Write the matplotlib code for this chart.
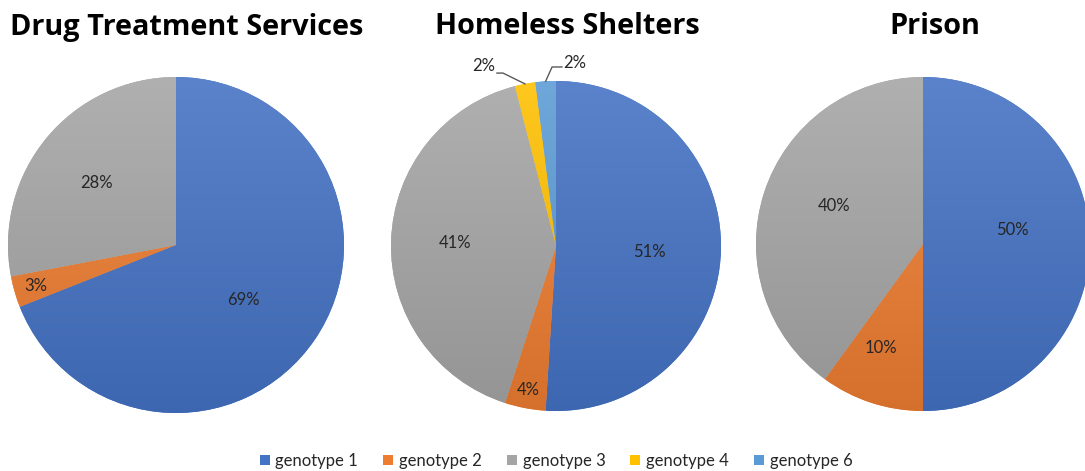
import numpy as np
import matplotlib
matplotlib.use("Agg")
import matplotlib.pyplot as plt
from matplotlib.colors import to_rgb
from matplotlib.patches import Patch

# ---- data ----
titles = ["Drug Treatment Services", "Homeless Shelters", "Prison"]
genotypes = ["genotype 1", "genotype 2", "genotype 3", "genotype 4", "genotype 6"]
drug_values = [69, 3, 28, 0, 0]
homeless_values = [51, 4, 41, 2, 2]
prison_values = [50, 10, 40, 0, 0]
all_values = [drug_values, homeless_values, prison_values]

# ---- style ----
colors = ["#4472C4", "#ED7D31", "#A5A5A5", "#FFC000", "#5B9BD5"]
W, H = 1085, 471
centers = [(176, 245, 168), (556, 246, 165), (923, 244, 167)]
title_x = [187, 567, 935]
label_r = [[0.52, 0.87, 0.60, None, None],
           [0.57, 0.89, 0.61, None, None],
           [0.54, 0.67, 0.58, None, None]]
label_da = [[-5, 0, 2, 0, 0],
            [-2, 0, 0, 0, 0],
            [9, -4, -5, 0, 0]]
label_font = "Lato"
text_color = "#262626"

fig = plt.figure(figsize=(W / 100, H / 100), dpi=100)


def shade(c, f):
    c = np.array(to_rgb(c))
    if f > 0:
        return c + (1 - c) * f
    return c * (1 + f)


for i, (vals, (cx, cy, r)) in enumerate(zip(all_values, centers)):
    ax = fig.add_axes([(cx - r) / W, (H - cy - r) / H, 2 * r / W, 2 * r / H])
    ax.set_xlim(-1, 1)
    ax.set_ylim(-1, 1)
    ax.set_aspect("equal")
    ax.axis("off")
    idx = [k for k, v in enumerate(vals) if v > 0]
    v = [vals[k] for k in idx]
    wedges, _ = ax.pie(v, colors=[colors[k] for k in idx], startangle=90,
                       counterclock=False, radius=1.0, center=(0, 0),
                       wedgeprops=dict(linewidth=0))
    for w, k in zip(wedges, idx):
        top = shade(colors[k], 0.12)
        bot = shade(colors[k], -0.10)
        t = np.linspace(0, 1, 256)[:, None]
        grad = top[None, None, :] * (1 - t[..., None]) + bot[None, None, :] * t[..., None]
        grad = np.repeat(grad, 2, axis=1)
        im = ax.imshow(grad, extent=[-1, 1, -1, 1], origin="upper",
                       aspect="auto", zorder=w.get_zorder() + 0.1)
        im.set_clip_path(w)
    ax.set_xlim(-1, 1)
    ax.set_ylim(-1, 1)
    # labels
    for w, k in zip(wedges, idx):
        midd = (w.theta1 + w.theta2) / 2
        mid = np.deg2rad(midd + label_da[i][k])
        rr = label_r[i][k]
        if rr is not None:
            ax.text(rr * np.cos(mid), rr * np.sin(mid), f"{vals[k]}%",
                    ha="center", va="center", fontsize=12, color=text_color,
                    family=label_font, zorder=10)
        else:
            ex, ey = np.cos(np.deg2rad(midd)), np.sin(np.deg2rad(midd))
            if k == 3:
                ax.plot([ex, -0.321, -0.358], [ey, 1.048, 1.048],
                        color="#595959", lw=1, clip_on=False, zorder=10)
                ax.text(-0.37, 1.09, f"{vals[k]}%", ha="right", va="center", fontsize=12,
                        color=text_color, family=label_font, clip_on=False)
            else:
                ax.plot([ex, -0.024, 0.036], [ey, 1.085, 1.085],
                        color="#595959", lw=1, clip_on=False, zorder=10)
                ax.text(0.045, 1.11, f"{vals[k]}%", ha="left", va="center", fontsize=12,
                        color=text_color, family=label_font, clip_on=False)

    fig.text(title_x[i] / W, 1 - 27 / H, titles[i], ha="center", va="center",
             fontsize=20.8, fontweight="bold", family="Open Sans", color="#000000")

handles = [Patch(facecolor=c, edgecolor="none") for c in colors]
fig.legend(handles, genotypes, loc="center", bbox_to_anchor=(556 / W, 1 - 461 / H),
           ncol=5, frameon=False, handlelength=0.6, handleheight=0.6,
           handletextpad=0.35, columnspacing=1.5, prop={"family": label_font, "size": 12})
for t in fig.legends[0].get_texts():
    t.set_color(text_color)

fig.savefig("out.png", dpi=100)
